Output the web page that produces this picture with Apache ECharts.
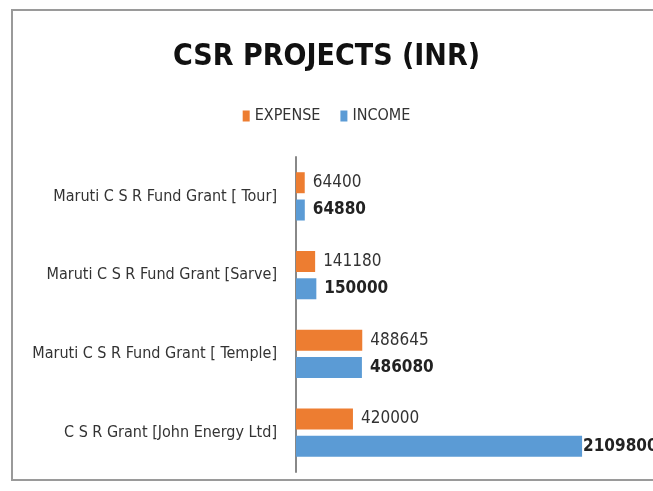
<!DOCTYPE html>
<html>
<head>
<meta charset="utf-8">
<script src="https://cdn.jsdelivr.net/npm/echarts@6/dist/echarts.min.js"></script>
<style>
  html, body { margin: 0; padding: 0; background: #fff; }
  #chart { width: 653px; height: 491px; }
</style>
</head>
<body>
<div id="chart"></div>
<script>
  // categories bottom -> top, as the y axis draws them
  var projects = [
    'C S R Grant [John Energy Ltd]',
    'Maruti C S R Fund Grant [ Temple]',
    'Maruti C S R Fund Grant [Sarve]',
    'Maruti C S R Fund Grant [ Tour]'
  ];
  var expense = [420000, 488645, 141180, 64400];
  var income = [2109800, 486080, 150000, 64880];

  var font = '"DejaVu Sans Condensed", "Liberation Sans", sans-serif';
  var xMax = 2500000;

  // long bars get their label tucked close to the bar end, like the original
  function withLabels(values) {
    return values.map(function (v) {
      return v > xMax * 0.8 ? { value: v, label: { distance: 1 } } : v;
    });
  }

  var chart = echarts.init(document.getElementById('chart'));
  chart.setOption({
    backgroundColor: '#fff',
    animation: false,
    textStyle: { fontFamily: font },
    graphic: [{
      type: 'rect',
      shape: { x: 12, y: 10, width: 660, height: 470 },
      style: { fill: 'none', stroke: '#9a9a9a', lineWidth: 2 },
      z: -1
    }],
    title: {
      text: 'CSR PROJECTS (INR)',
      left: 'center',
      top: 37,
      textStyle: { fontFamily: font, fontSize: 30, fontWeight: 'bold', color: '#111' }
    },
    legend: {
      data: ['EXPENSE', 'INCOME'],
      top: 103,
      left: 'center',
      itemWidth: 7,
      itemHeight: 11,
      itemGap: 20,
      icon: 'rect',
      textStyle: { fontFamily: font, fontSize: 16, color: '#333' }
    },
    grid: { left: 296, right: 18, top: 157, bottom: 19 },
    xAxis: {
      type: 'value',
      min: 0,
      max: xMax,
      show: false,
      splitLine: { show: false }
    },
    yAxis: {
      type: 'category',
      data: projects,
      axisLine: { lineStyle: { color: '#888', width: 2 } },
      axisTick: { show: false },
      axisLabel: { fontFamily: font, fontSize: 16, color: '#333', margin: 19 }
    },
    series: [
      {
        name: 'EXPENSE',
        type: 'bar',
        data: withLabels(expense),
        barWidth: 21,
        barGap: '30%',
        itemStyle: { color: '#ED7D31' },
        label: {
          show: true, position: 'right', distance: 8,
          fontFamily: font, fontSize: 17, color: '#333'
        }
      },
      {
        name: 'INCOME',
        type: 'bar',
        data: withLabels(income),
        barWidth: 21,
        barGap: '30%',
        itemStyle: { color: '#5B9BD5' },
        label: {
          show: true, position: 'right', distance: 8,
          fontFamily: font, fontSize: 17, fontWeight: 'bold', color: '#222'
        }
      }
    ]
  });
</script>
</body>
</html>
